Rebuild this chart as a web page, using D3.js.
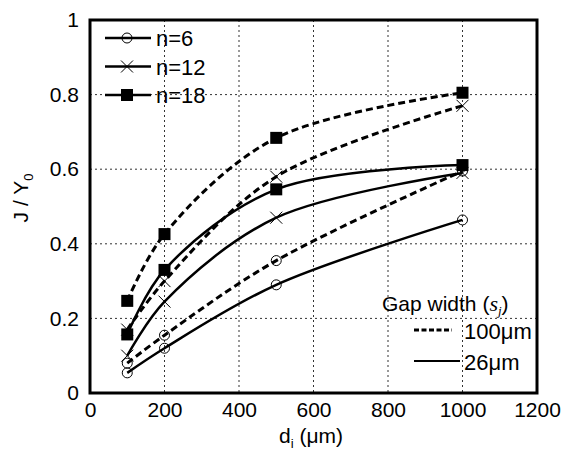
<!DOCTYPE html>
<html>
<head>
<meta charset="utf-8">
<script src="https://cdn.jsdelivr.net/npm/d3@7"></script>
<style>
  body { margin: 0; background: #fff; }
  text { font-family: Arial, "Liberation Sans", sans-serif; fill: #000; }
</style>
</head>
<body>
<svg id="chart" width="565" height="455"></svg>
<script>

  // x positions (um) shared by every series
  var diameters = [100, 200, 500, 1000];
  var xTicks = [0, 200, 400, 600, 800, 1000, 1200];
  var yTicks = [0, 0.2, 0.4, 0.6, 0.8, 1];

  // J / Y0; "wide" = 100um gap (dashed), "narrow" = 26um gap (solid)
  var n6wide = [0.08, 0.155, 0.355, 0.595];
  var n6narrow = [0.054, 0.12, 0.29, 0.464];
  var n12wide = [0.17, 0.30, 0.58, 0.77];
  var n12narrow = [0.10, 0.245, 0.47, 0.59];
  var n18wide = [0.247, 0.426, 0.684, 0.805];
  var n18narrow = [0.157, 0.33, 0.546, 0.611];

  var series = [
    { n: 6, gap: 'wide', values: n6wide },
    { n: 6, gap: 'narrow', values: n6narrow },
    { n: 12, gap: 'wide', values: n12wide },
    { n: 12, gap: 'narrow', values: n12narrow },
    { n: 18, gap: 'wide', values: n18wide },
    { n: 18, gap: 'narrow', values: n18narrow }
  ];

  // plot frame (note: "top" is reserved on window, so use a prefix)
  var plotLeft = 90, plotRight = 537, plotTop = 20, plotBottom = 393;
  var fontSize = '21px';

  var svg = d3.select('#chart');

  var x = d3.scaleLinear().domain([0, 1200]).range([plotLeft, plotRight]);
  var y = d3.scaleLinear().domain([0, 1]).range([plotBottom, plotTop]);

  // grid
  svg.append('g')
    .selectAll('line')
    .data(xTicks.slice(1, -1))
    .enter()
    .append('line')
      .attr('x1', function (d) { return x(d); })
      .attr('x2', function (d) { return x(d); })
      .attr('y1', plotTop)
      .attr('y2', plotBottom)
      .attr('stroke', '#333')
      .attr('stroke-width', 1)
      .attr('stroke-dasharray', '2,3');

  svg.append('g')
    .selectAll('line')
    .data(yTicks.slice(1, -1))
    .enter()
    .append('line')
      .attr('x1', plotLeft)
      .attr('x2', plotRight)
      .attr('y1', function (d) { return y(d); })
      .attr('y2', function (d) { return y(d); })
      .attr('stroke', '#333')
      .attr('stroke-width', 1)
      .attr('stroke-dasharray', '2,3');

  // axes: tick labels only, the frame is drawn separately
  var xAxis = svg.append('g')
    .attr('transform', 'translate(0,' + plotBottom + ')')
    .call(d3.axisBottom(x).tickValues(xTicks).tickSize(0).tickPadding(9).tickFormat(d3.format('d')));
  xAxis.select('.domain').remove();
  xAxis.selectAll('text').style('font-size', fontSize).style('font-family', 'Arial, "Liberation Sans", sans-serif');

  var yAxis = svg.append('g')
    .attr('transform', 'translate(' + plotLeft + ',0)')
    .call(d3.axisLeft(y).tickValues(yTicks).tickSize(0).tickPadding(11).tickFormat(function (d) { return d === 0 || d === 1 ? d : d.toFixed(1); }));
  yAxis.select('.domain').remove();
  yAxis.selectAll('text').style('font-size', fontSize).style('font-family', 'Arial, "Liberation Sans", sans-serif');

  // axis titles
  var xt = svg.append('text')
    .attr('x', 311)
    .attr('y', 443)
    .attr('text-anchor', 'middle')
    .style('font-size', fontSize);
  xt.append('tspan').text('d');
  xt.append('tspan').attr('dy', 5).style('font-size', '13px').text('i');
  xt.append('tspan').attr('dy', -5).text(' (\u03bcm)');

  var yt = svg.append('text')
    .attr('transform', 'translate(28,198) rotate(-90)')
    .attr('text-anchor', 'middle')
    .style('font-size', fontSize);
  yt.append('tspan').text('J / Y');
  yt.append('tspan').attr('dy', 5).style('font-size', '13px').text('0');

  // lines
  var line = d3.line()
    .x(function (d, i) { return x(diameters[i]); })
    .y(function (d) { return y(d); })
    .curve(d3.curveCatmullRom.alpha(0.5));

  svg.append('g')
    .selectAll('path')
    .data(series)
    .enter()
    .append('path')
      .attr('d', function (d) { return line(d.values); })
      .attr('fill', 'none')
      .attr('stroke', '#000')
      .attr('stroke-width', function (d) { return d.gap === 'wide' ? 3 : 2.5; })
      .attr('stroke-dasharray', function (d) { return d.gap === 'wide' ? '7,4' : null; });

  // markers
  function drawMarker(g, n, cx, cy) {
    if (n === 6) {
      g.append('circle')
        .attr('cx', cx).attr('cy', cy).attr('r', 5)
        .attr('fill', 'none').attr('stroke', '#000').attr('stroke-width', 1);
    } else if (n === 12) {
      g.append('path')
        .attr('d', 'M' + (cx - 6) + ',' + (cy - 6) + 'L' + (cx + 6) + ',' + (cy + 6) +
                   'M' + (cx - 6) + ',' + (cy + 6) + 'L' + (cx + 6) + ',' + (cy - 6))
        .attr('stroke', '#000').attr('stroke-width', 1);
    } else {
      g.append('rect')
        .attr('x', cx - 6).attr('y', cy - 6).attr('width', 12).attr('height', 12)
        .attr('fill', '#000');
    }
  }

  var markers = svg.append('g');
  series.forEach(function (s) {
    s.values.forEach(function (v, i) {
      drawMarker(markers, s.n, x(diameters[i]), y(v));
    });
  });

  // frame
  svg.append('rect')
    .attr('x', plotLeft).attr('y', plotTop)
    .attr('width', plotRight - plotLeft).attr('height', plotBottom - plotTop)
    .attr('fill', 'none').attr('stroke', '#000').attr('stroke-width', 3);

  // marker legend
  var legendN = [6, 12, 18];
  var lg = svg.append('g');
  legendN.forEach(function (n, i) {
    var ly = 38 + i * 28.5;
    lg.append('line')
      .attr('x1', 105).attr('x2', 151).attr('y1', ly).attr('y2', ly)
      .attr('stroke', '#000').attr('stroke-width', 2.5);
    drawMarker(lg, n, 127, ly);
    lg.append('text')
      .attr('x', 156).attr('y', ly + 8)
      .style('font-size', '22px')
      .text('n=' + n);
  });

  // gap width legend
  var gapLabels = ['100\u03bcm', '26\u03bcm'];
  var gt = svg.append('text')
    .attr('x', 382).attr('y', 311)
    .style('font-size', fontSize);
  gt.append('tspan').text('Gap width (');
  gt.append('tspan').style('font-family', '"Liberation Serif", serif').style('font-style', 'italic').style('font-size', '22px').text('s');
  gt.append('tspan').attr('dy', 4).style('font-size', '13px').style('font-family', '"Liberation Serif", serif').style('font-style', 'italic').text('j');
  gt.append('tspan').attr('dy', -4).text(')');

  gapLabels.forEach(function (label, i) {
    var ly = 330 + i * 31;
    lg.append('line')
      .attr('x1', 414).attr('x2', i === 0 ? 452 : 460).attr('y1', ly).attr('y2', ly)
      .attr('stroke', '#000')
      .attr('stroke-width', i === 0 ? 3 : 2)
      .attr('stroke-dasharray', i === 0 ? '5,2.5' : null);
    lg.append('text')
      .attr('x', 464).attr('y', ly + 9)
      .style('font-size', '22px')
      .text(label);
  });

</script>
</body>
</html>
